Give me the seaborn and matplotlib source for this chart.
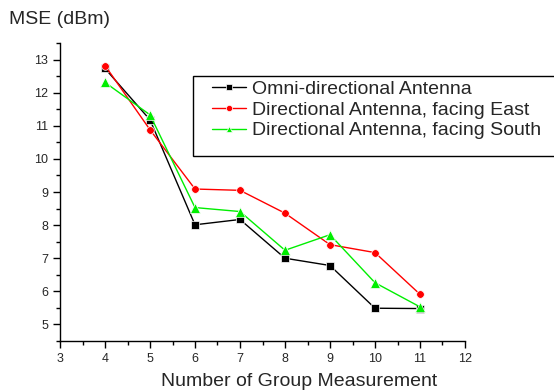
import matplotlib
matplotlib.use("Agg")
import matplotlib.pyplot as plt
import seaborn as sns
import pandas as pd
from matplotlib.ticker import MultipleLocator
from matplotlib.patches import Rectangle

groups = [4, 5, 6, 7, 8, 9, 10, 11]
omni = [12.73, 11.18, 8.01, 8.17, 7.00, 6.78, 5.49, 5.48]
east = [12.82, 10.88, 9.09, 9.05, 8.36, 7.41, 7.17, 5.91]
south = [12.31, 11.33, 8.53, 8.41, 7.24, 7.71, 6.26, 5.53]
labels = ["Omni-directional Antenna",
          "Directional Antenna, facing East",
          "Directional Antenna, facing South"]

rows = []
for lab, vals in zip(labels, [omni, east, south]):
    for g, v in zip(groups, vals):
        rows.append({"x": g, "y": v, "series": lab})
df = pd.DataFrame(rows)

sns.set_style("ticks")
plt.rcParams["font.family"] = ["Liberation Sans", "DejaVu Sans"]

fig = plt.figure(figsize=(5.54, 3.92), dpi=100)
ax = fig.add_axes([60/554, 1 - 341/392, 405/554, 298/392])

palette = {labels[0]: "#000000", labels[1]: "#ff0000", labels[2]: "#00ee00"}
markers = {labels[0]: "s", labels[1]: "o", labels[2]: "^"}
sns.lineplot(data=df, x="x", y="y", hue="series", style="series",
             palette=palette, markers=markers, dashes=False, ax=ax,
             linewidth=1.0, markersize=5.5, markeredgewidth=0.5, legend=True)
for ln in ax.get_lines():
    if ln.get_marker() == "^":
        ln.set_markersize(6.5)

ax.set_xlim(3, 12)
ax.set_ylim(4.5, 13.5)
ax.xaxis.set_major_locator(MultipleLocator(1))
ax.xaxis.set_minor_locator(MultipleLocator(0.5))
ax.yaxis.set_minor_locator(MultipleLocator(0.5))
ax.set_yticks([5, 6, 7, 8, 9, 10, 11, 12, 13])
ax.tick_params(axis="both", which="major", length=5, width=1, labelsize=9, color="black")
ax.tick_params(axis="both", which="minor", length=3, width=1, color="black")
for s in ["top", "right"]:
    ax.spines[s].set_visible(False)
for s in ["left", "bottom"]:
    ax.spines[s].set_color("black")
    ax.spines[s].set_linewidth(1)
ax.set_xlabel("")
ax.set_ylabel("")
fig.text(299/554, 1 - 381/392, "Number of Group Measurement", fontsize=14,
         va="center", ha="center")
fig.text(9/554, 1 - 20/392, "MSE (dBm)", fontsize=14, va="center", ha="left")

# legend frame
rect = Rectangle((193/554, 1 - 156/392), 400/554, 80/392,
                 transform=fig.transFigure, fill=True,
                 facecolor="white", edgecolor="black",
                 linewidth=1, zorder=4, clip_on=False)
ax.add_patch(rect)

handles, labs = ax.get_legend_handles_labels()
ax.legend(handles, labs, loc="upper left",
          bbox_to_anchor=(212/554, 1 - 80/392),
          bbox_transform=fig.transFigure,
          fontsize=14, frameon=False, borderaxespad=0,
          handlelength=1.75, handletextpad=0.3, labelspacing=0.17,
          borderpad=0.0)
leg = ax.get_legend()
leg.set_zorder(10)
for h in leg.legend_handles:
    h.set_markersize(4.5)

fig.savefig("out.png", dpi=100)
